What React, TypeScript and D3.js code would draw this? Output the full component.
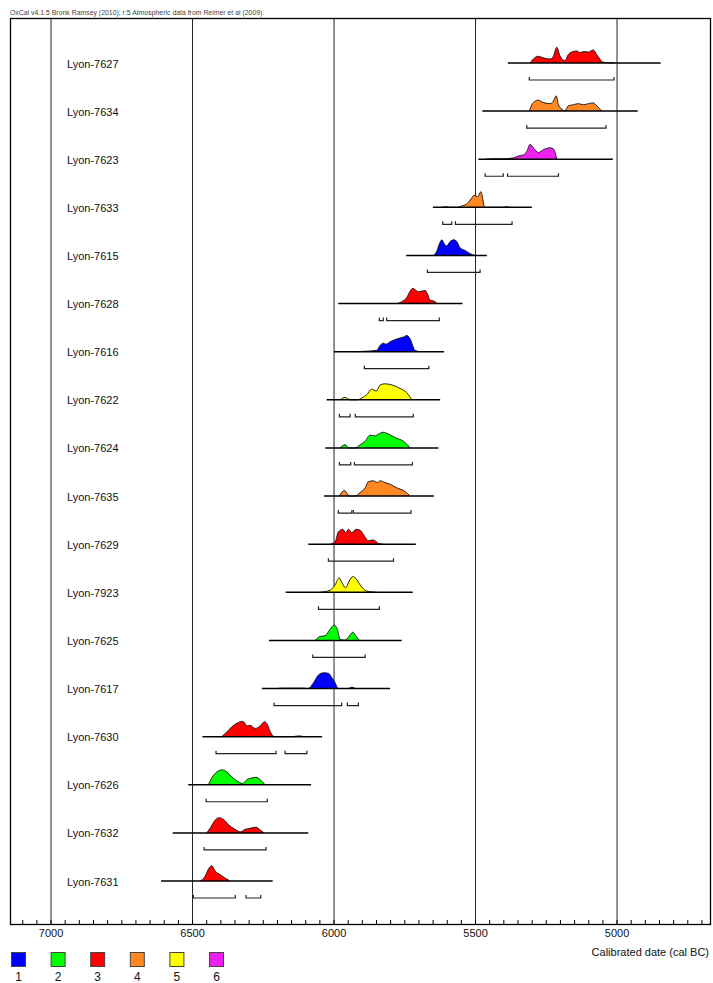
import React from "react";
import * as d3 from "d3";

const names = ["Lyon-7627","Lyon-7634","Lyon-7623","Lyon-7633","Lyon-7615","Lyon-7628","Lyon-7616","Lyon-7622","Lyon-7624","Lyon-7635","Lyon-7629","Lyon-7923","Lyon-7625","Lyon-7617","Lyon-7630","Lyon-7626","Lyon-7632","Lyon-7631"];
const groups = [3,4,6,4,1,3,1,5,2,4,3,5,2,1,3,2,3,3];
const spans: [number, number][] = [
  [5386,4846],[5476,4927],[5490,5015],[5651,5301],[5745,5460],[5985,5546],
  [6000,5611],[6026,5625],[6031,5631],[6035,5647],[6091,5711],[6171,5722],
  [6230,5761],[6255,5802],[6465,6042],[6515,6081],[6570,6091],[6611,6217]
];
const dists: [number, number][][] = [
  [[5307,0],[5296,3.7],[5278,6.3],[5266,5.3],[5237,3.7],[5225,6.3],[5213,14.7],[5201,6.3],[5184,2.3],[5172,8],[5160,10.3],[5142,11.3],[5131,9.7],[5119,10.7],[5101,10.3],[5084,12.3],[5072,8],[5048,0.7],[5007,0]],
  [[5310,0],[5301,6],[5290,9.3],[5278,10.3],[5266,8.7],[5237,7],[5225,9.3],[5215,14.3],[5207,6],[5195,1.7],[5184,0.3],[5172,5],[5154,6],[5137,7],[5119,6],[5101,7],[5084,7.7],[5072,5],[5054,0]],
  [[5466,0],[5440,0.5],[5400,0.5],[5366,1.3],[5349,3],[5331,4],[5319,7.3],[5307,14],[5296,10.7],[5278,6.3],[5260,9],[5237,10.7],[5225,9.7],[5213,0]],
  [[5620,0],[5605,0.6],[5590,0],[5561,0],[5549,1.3],[5537,2.3],[5525,4.7],[5513,9],[5505,11.3],[5493,10],[5481,14.7],[5474,7.3],[5469,0.7],[5463,0],[5400,0],[5390,0.8],[5380,0]],
  [[5649,0],[5637,4],[5628,10.7],[5619,14.7],[5610,10.7],[5602,9],[5590,13],[5578,14.7],[5566,13],[5555,7.3],[5537,4.7],[5519,1.7],[5502,0]],
  [[5778,0],[5761,1.7],[5743,5.7],[5731,11.7],[5722,14.3],[5710,12.3],[5702,11],[5690,11.7],[5678,12.3],[5670,9],[5661,3.3],[5647,2.3],[5635,0]],
  [[5920,0],[5884,0.5],[5849,1.3],[5837,6],[5826,8],[5816,7],[5802,9.3],[5778,12],[5755,13.7],[5743,15.3],[5731,12],[5714,1.3],[5696,0]],
  [[5979,0],[5961,2.3],[5943,0],[5920,0],[5902,1.7],[5884,5],[5867,10],[5851,8.3],[5837,14],[5820,15],[5796,14],[5767,10.7],[5743,6.7],[5725,0]],
  [[5979,0],[5961,3],[5946,0],[5926,0],[5908,3],[5890,6.3],[5873,12],[5855,11.3],[5843,13],[5826,14.7],[5808,13],[5784,9.7],[5755,6.3],[5731,0]],
  [[5981,0],[5963,5.3],[5946,0],[5926,0],[5908,3.3],[5890,7.7],[5879,13.3],[5861,14.3],[5847,12.7],[5837,14.3],[5820,12.7],[5802,11],[5778,7.7],[5749,4.3],[5731,0]],
  [[6014,0],[5996,2.3],[5985,11.3],[5969,14],[5959,10.7],[5949,14],[5937,10.7],[5922,14],[5908,13],[5896,9],[5879,3.3],[5861,4],[5843,0.7],[5826,0]],
  [[6049,0],[6014,2],[5996,7],[5982,13.7],[5973,9.3],[5959,4.3],[5947,10.3],[5934,14.7],[5922,12.7],[5908,7],[5884,1],[5849,0]],
  [[6067,0],[6049,3.7],[6032,4.3],[6014,10.3],[6000,14.3],[5988,10.3],[5979,1],[5961,0.3],[5943,5.3],[5934,7.7],[5922,3.7],[5910,0]],
  [[6202,0],[6180,0.4],[6110,0.4],[6091,0],[6073,5.3],[6055,12.7],[6038,14.7],[6020,14.3],[6008,10.3],[5996,5.3],[5985,0],[5950,0],[5937,1.3],[5925,0]],
  [[6397,0],[6379,4.3],[6361,9.3],[6342,12.7],[6326,14.3],[6317,13.3],[6308,10],[6297,10.7],[6279,7.7],[6261,10],[6246,14],[6236,11.7],[6226,5],[6216,0.7],[6208,0],[6145,0],[6126,0.7],[6105,0]],
  [[6444,0],[6432,6.3],[6414,12],[6395,14],[6379,12],[6361,7.3],[6344,3.7],[6323,1.3],[6308,4.7],[6291,6.3],[6276,7],[6261,4.7],[6244,0]],
  [[6450,0],[6438,4.3],[6420,12],[6405,14.3],[6391,12.7],[6373,7.7],[6350,3.3],[6330,1],[6314,3.3],[6297,4.3],[6276,5.3],[6261,2.7],[6247,0]],
  [[6473,0],[6456,4.3],[6444,11],[6432,14.3],[6420,9.3],[6403,6],[6385,2.7],[6367,0]]
];
const ranges: [number, number][][] = [
  [[5310,5011]],[[5319,5039]],[[5466,5402],[5387,5207]],[[5616,5584],[5571,5371]],
  [[5670,5484]],[[5840,5826],[5814,5628]],[[5893,5665]],[[5981,5943],[5925,5720]],
  [[5981,5941],[5928,5723]],[[5985,5937],[5932,5728]],[[6020,5790]],[[6055,5840]],
  [[6075,5890]],[[6212,5973],[5953,5914]],[[6417,6205],[6173,6096]],[[6452,6236]],
  [[6459,6240]],[[6497,6349],[6311,6259]]
];
const majorTicks = [7000, 6500, 6000, 5500, 5000];
const legendLabels = ["1","2","3","4","5","6"];
const groupColors = ["#0000ff","#00ff00","#ff0000","#ff8822","#ffff00","#ee22ee"];
const header = "OxCal v4.1.5 Bronk Ramsey (2010); r:5 Atmospheric data from Reimer et al (2009).";
const axisTitle = "Calibrated date (cal BC)";

const FONT = "'Liberation Sans', Arial, sans-serif";

export default function App() {
  const left = 10, right = 711, top = 18, bottom = 924;
  const x = d3.scaleLinear().domain([7145, 4668]).range([left, right]);
  const y = d3.scalePoint<string>().domain(names).range([63, 881]);
  const h = d3.scaleLinear().domain([0, 15]).range([0, 16]);
  const minor = d3.range(4700, 7150, 50);
  const legendX = d3.scalePoint<string>().domain(legendLabels).range([11, 209]);

  return (
    <svg width={713} height={983} style={{ position: "absolute", left: 0, top: 0, background: "#fff" }} fontFamily={FONT}>
      <rect x={0} y={0} width={713} height={983} fill="#fff" />
      <text x={10} y={15} fontSize={6.9} fill="#444">{header}</text>
      {majorTicks.map((t) => (
        <line key={"g" + t} x1={x(t)} x2={x(t)} y1={top} y2={bottom} stroke="#222" strokeWidth={1} />
      ))}
      <rect x={left + 0.5} y={top + 0.5} width={right - left - 1} height={bottom - top} fill="none" stroke="#000" strokeWidth={1.3} />
      {minor.map((t) => (
        <line key={"m" + t} x1={x(t)} x2={x(t)} y1={bottom} y2={bottom - 4} stroke="#000" strokeWidth={1} />
      ))}
      {majorTicks.map((t) => (
        <text key={"l" + t} x={x(t)} y={937} fontSize={11} textAnchor="middle" fill="#111">{t}</text>
      ))}
      <text x={709} y={956} fontSize={11} textAnchor="end" fill="#111">{axisTitle}</text>
      {names.map((n, i) => {
        const base = y(n)!;
        const area = d3.area<[number, number]>()
          .x((d) => x(d[0]))
          .y0(base)
          .y1((d) => base - h(d[1]))
          .curve(d3.curveMonotoneX);
        const line = d3.line<[number, number]>()
          .x((d) => x(d[0]))
          .y((d) => base - h(d[1]))
          .curve(d3.curveMonotoneX);
        const by = base + 17;
        return (
          <g key={n}>
            <text x={67} y={base + 4.5} fontSize={11} fill="#111">{n}</text>
            <path d={area(dists[i]) || ""} fill={groupColors[groups[i] - 1]} />
            <path d={line(dists[i]) || ""} fill="none" stroke="#111" strokeWidth={0.9} />
            <line x1={x(spans[i][0])} x2={x(spans[i][1])} y1={base} y2={base} stroke="#000" strokeWidth={1.5} />
            {ranges[i].map((r, j) => (
              <path key={j} d={`M${x(r[0])},${by - 3}V${by}H${x(r[1])}V${by - 3}`} fill="none" stroke="#222" strokeWidth={1.2} />
            ))}
          </g>
        );
      })}
      {legendLabels.map((l, i) => (
        <g key={"lg" + l}>
          <rect x={legendX(l)! + 0.5} y={952.5} width={14} height={14} fill={groupColors[i]} stroke="#444" strokeWidth={1} />
          <text x={legendX(l)! + 7.5} y={981} fontSize={12} textAnchor="middle" fill="#111">{l}</text>
        </g>
      ))}
    </svg>
  );
}
